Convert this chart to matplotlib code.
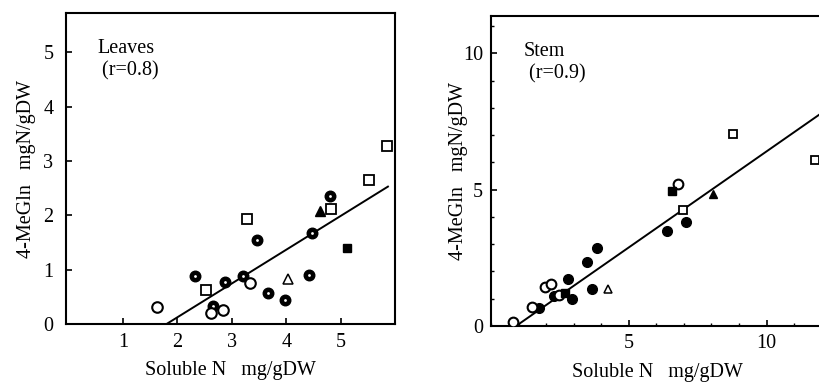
import matplotlib.pyplot as plt
from matplotlib.ticker import MultipleLocator

# Leaves panel
leaves_oc_x = [1.63, 2.61, 2.83, 3.34]
leaves_oc_y = [0.31, 0.20, 0.26, 0.75]
leaves_fc_x = [2.32, 2.66, 2.87, 3.21, 3.46, 3.67, 3.98, 4.42, 4.48, 4.80]
leaves_fc_y = [0.89, 0.34, 0.77, 0.89, 1.54, 0.58, 0.45, 0.91, 1.67, 2.36]
leaves_os_x = [2.53, 3.28, 4.82, 5.52, 5.86]
leaves_os_y = [0.63, 1.93, 2.11, 2.65, 3.27]
leaves_fs_x = [5.12]
leaves_fs_y = [1.40]
leaves_ot_x = [4.03]
leaves_ot_y = [0.84]
leaves_ft_x = [4.62]
leaves_ft_y = [2.08]
leaves_fit_x = [1.79, 5.87]
leaves_fit_y = [0.0, 2.53]

# Stem panel
stem_oc_x = [0.78, 1.47, 1.96, 2.16, 2.45, 6.77]
stem_oc_y = [0.16, 0.71, 1.42, 1.53, 1.14, 5.20]
stem_fc_x = [1.74, 2.29, 2.77, 2.94, 3.48, 3.65, 3.84, 6.38, 7.07]
stem_fc_y = [0.65, 1.11, 1.71, 0.98, 2.36, 1.37, 2.87, 3.48, 3.83]
stem_os_x = [6.97, 8.80, 11.76]
stem_os_y = [4.25, 7.04, 6.09]
stem_fs_x = [2.68, 6.56]
stem_fs_y = [1.20, 4.96]
stem_ot_x = [4.24]
stem_ot_y = [1.37]
stem_ft_x = [8.04]
stem_ft_y = [4.84]
stem_fit_x = [0.90, 12.0]
stem_fit_y = [0.0, 7.81]

plt.rcParams['font.family'] = ['Liberation Serif', 'DejaVu Serif']
FS = 14.5

fig = plt.figure(figsize=(8.19, 3.84), dpi=100)
ax1 = fig.add_axes([66 / 819, 1 - 324.3 / 384, 329 / 819, 311.3 / 384])
ax2 = fig.add_axes([491.3 / 819, 1 - 326 / 384, 333 / 819, 310 / 384])


def draw_points(ax, oc, fc, os_, fs, ot, ft, fit, scale, bullseye):
    ax.plot(fit[0], fit[1], color='black', lw=1.4, zorder=2)
    ax.plot(fc[0], fc[1], 'o', ms=7.6 * scale, mfc='black', mec='black', zorder=3)
    if bullseye:
        ax.plot(fc[0], fc[1], 'o', ms=2.0, mfc='white', mec='none', zorder=3.1)
    ax.plot(oc[0], oc[1], 'o', ms=7.6 * scale, mfc='white', mec='black', mew=1.5, zorder=4)
    ax.plot(os_[0], os_[1], 's', ms=6.8 * scale, mfc='white', mec='black', mew=1.3, zorder=4)
    ax.plot(fs[0], fs[1], 's', ms=6.4 * scale, mfc='black', mec='black', zorder=4)
    ax.plot(ot[0], ot[1], '^', ms=6.6 * scale, mfc='white', mec='black', mew=1.1, zorder=4)
    ax.plot(ft[0], ft[1], '^', ms=6.6 * scale, mfc='black', mec='black', zorder=4)


draw_points(ax1, (leaves_oc_x, leaves_oc_y), (leaves_fc_x, leaves_fc_y),
            (leaves_os_x, leaves_os_y), (leaves_fs_x, leaves_fs_y),
            (leaves_ot_x, leaves_ot_y), (leaves_ft_x, leaves_ft_y),
            (leaves_fit_x, leaves_fit_y), 1.0, True)
draw_points(ax2, (stem_oc_x, stem_oc_y), (stem_fc_x, stem_fc_y),
            (stem_os_x, stem_os_y), (stem_fs_x, stem_fs_y),
            (stem_ot_x, stem_ot_y), (stem_ft_x, stem_ft_y),
            (stem_fit_x, stem_fit_y), 0.92, False)

ax1.set_xlim(-0.05, 6.0)
ax1.set_ylim(0, 5.72)
ax1.set_xticks([1, 2, 3, 4, 5])
ax1.set_yticks([0, 1, 2, 3, 4, 5])

ax2.set_xlim(0, 12.1)
ax2.set_ylim(0, 11.37)
ax2.set_xticks([5, 10])
ax2.set_yticks([0, 5, 10])
ax2.xaxis.set_minor_locator(MultipleLocator(1))
ax2.yaxis.set_minor_locator(MultipleLocator(1))

for ax in (ax1, ax2):
    for sp in ax.spines.values():
        sp.set_linewidth(1.5)
    ax.tick_params(which='major', direction='in', length=4, width=1.2,
                   labelsize=FS, pad=6)
    ax.tick_params(which='minor', direction='in', length=2.5, width=1.0)
    ax.set_xlabel('Soluble N   mg/gDW', fontsize=FS, labelpad=7)

ax1.tick_params(axis='y', which='major', pad=9)
ax1.set_ylabel('4-MeGln   mgN/gDW', fontsize=FS, labelpad=5)
ax2.set_ylabel('4-MeGln   mgN/gDW', fontsize=FS, labelpad=-4)

ax1.text(0.095, 0.915, 'Leaves\n (r=0.8)', transform=ax1.transAxes,
         fontsize=FS, va='top', ha='left', linespacing=1.2)
ax2.text(0.097, 0.915, 'Stem\n (r=0.9)', transform=ax2.transAxes,
         fontsize=FS, va='top', ha='left', linespacing=1.2)

fig.savefig('out.png', dpi=100)
